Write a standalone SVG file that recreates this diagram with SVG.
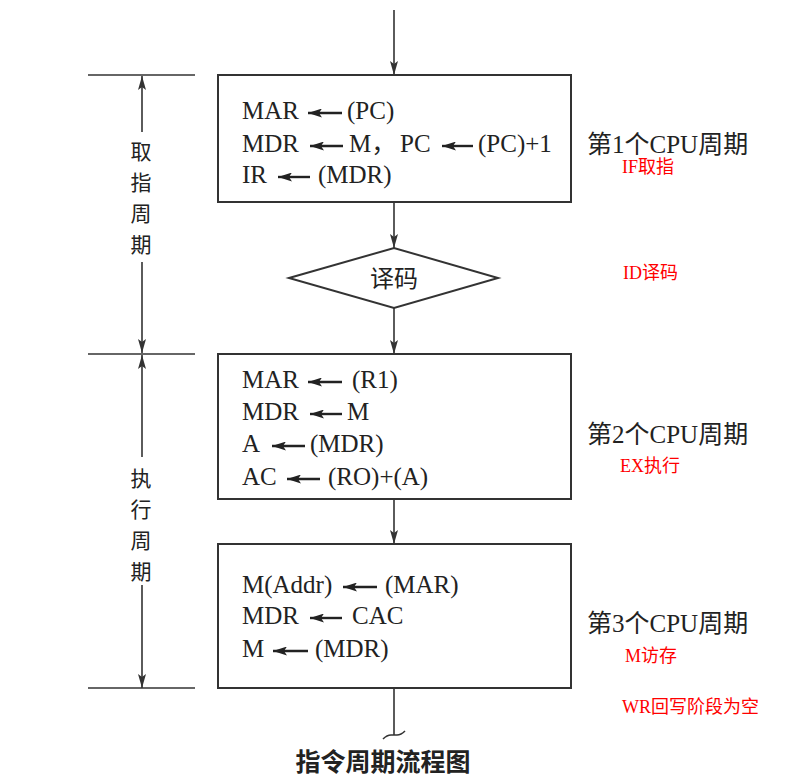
<svg xmlns="http://www.w3.org/2000/svg" width="809" height="778" viewBox="0 0 809 778">
<defs>
<style>
.box{fill:#fff;stroke:#333;stroke-width:2}
.ln{fill:none;stroke:#333;stroke-width:1.6}
.sl{fill:none;stroke:#222;stroke-width:2.4}
.t{font-family:"Liberation Serif","Noto Sans CJK SC",serif;font-size:25px;fill:#222}
.cj{font-family:"Noto Sans CJK SC",sans-serif;font-size:21px;fill:#222;text-anchor:middle}
.cy{font-family:"Liberation Serif","Noto Sans CJK SC",serif;font-size:25px;fill:#222}
.red{font-family:"Liberation Serif","Noto Sans CJK SC",serif;font-size:18px;fill:#f00}
.cap{font-family:"Noto Sans CJK SC",sans-serif;font-size:25px;font-weight:bold;fill:#222;text-anchor:middle}
</style>
<marker id="ah" viewBox="0 0 14 8" refX="14" refY="4" markerWidth="14" markerHeight="8" orient="auto" markerUnits="userSpaceOnUse">
<path d="M0,0 L14,4 L0,8 L3,4 z" fill="#333"/>
</marker>
<marker id="sa" viewBox="0 0 14 9" refX="14" refY="4.5" markerWidth="14" markerHeight="9" orient="auto" markerUnits="userSpaceOnUse">
<path d="M0,0 L14,4.5 L0,9 L3,4.5 z" fill="#222"/>
</marker>
</defs>
<rect width="809" height="778" fill="#fff"/>

<g id="connectors">
<line class="ln" x1="394" y1="10" x2="394" y2="75" marker-end="url(#ah)"/>
<line class="ln" x1="394" y1="202" x2="394" y2="248" marker-end="url(#ah)"/>
<line class="ln" x1="394" y1="308" x2="394" y2="354" marker-end="url(#ah)"/>
<line class="ln" x1="394" y1="499" x2="394" y2="544" marker-end="url(#ah)"/>
<path class="ln" d="M394,688 V735 M383,739 q4,-4 8,-4 h6 q4,0 8,-4"/>
</g>

<g id="brackets">
<line class="ln" x1="88" y1="75" x2="195" y2="75"/>
<line class="ln" x1="88" y1="354" x2="195" y2="354"/>
<line class="ln" x1="88" y1="688" x2="195" y2="688"/>
<line class="ln" x1="142" y1="132" x2="142" y2="76" marker-end="url(#ah)"/>
<line class="ln" x1="142" y1="262" x2="142" y2="353" marker-end="url(#ah)"/>
<line class="ln" x1="142" y1="457" x2="142" y2="355" marker-end="url(#ah)"/>
<line class="ln" x1="142" y1="585" x2="142" y2="688" marker-end="url(#ah)"/>
<text class="cj" x="141" y="159">取</text>
<text class="cj" x="141" y="190">指</text>
<text class="cj" x="141" y="221">周</text>
<text class="cj" x="141" y="252">期</text>
<text class="cj" x="141" y="486">执</text>
<text class="cj" x="141" y="517">行</text>
<text class="cj" x="141" y="548">周</text>
<text class="cj" x="141" y="579">期</text>
</g>

<g id="box1">
<rect class="box" x="218" y="75" width="353" height="127"/>
<text class="t" x="242" y="119">MAR</text>
<line class="sl" x1="342" y1="113" x2="308" y2="113" marker-end="url(#sa)"/>
<text class="t" x="347" y="119">(PC)</text>
<text class="t" x="242" y="152">MDR</text>
<line class="sl" x1="343" y1="146" x2="310" y2="146" marker-end="url(#sa)"/>
<text class="t" x="349" y="152">M，</text>
<text class="t" x="400" y="152">PC</text>
<line class="sl" x1="473" y1="146" x2="442" y2="146" marker-end="url(#sa)"/>
<text class="t" x="478" y="152">(PC)+1</text>
<text class="t" x="242" y="183">IR</text>
<line class="sl" x1="310" y1="177" x2="278" y2="177" marker-end="url(#sa)"/>
<text class="t" x="318" y="183">(MDR)</text>
</g>

<g id="decode">
<polygon class="box" points="289,278 394,248 498,278 394,308"/>
<text class="cj" x="394" y="287" style="font-size:24px">译码</text>
</g>

<g id="box2">
<rect class="box" x="218" y="354" width="353" height="145"/>
<text class="t" x="242" y="388">MAR</text>
<line class="sl" x1="342" y1="382" x2="308" y2="382" marker-end="url(#sa)"/>
<text class="t" x="352" y="388">(R1)</text>
<text class="t" x="242" y="420">MDR</text>
<line class="sl" x1="342" y1="414" x2="310" y2="414" marker-end="url(#sa)"/>
<text class="t" x="347" y="420">M</text>
<text class="t" x="242" y="452">A</text>
<line class="sl" x1="305" y1="446" x2="272" y2="446" marker-end="url(#sa)"/>
<text class="t" x="310" y="452">(MDR)</text>
<text class="t" x="242" y="485">AC</text>
<line class="sl" x1="320" y1="479" x2="287" y2="479" marker-end="url(#sa)"/>
<text class="t" x="328" y="485">(RO)+(A)</text>
</g>

<g id="box3">
<rect class="box" x="218" y="544" width="353" height="144"/>
<text class="t" x="242" y="593">M(Addr)</text>
<line class="sl" x1="377" y1="587" x2="343" y2="587" marker-end="url(#sa)"/>
<text class="t" x="385" y="593">(MAR)</text>
<text class="t" x="242" y="624">MDR</text>
<line class="sl" x1="342" y1="618" x2="310" y2="618" marker-end="url(#sa)"/>
<text class="t" x="352" y="624">CAC</text>
<text class="t" x="242" y="657">M</text>
<line class="sl" x1="308" y1="651" x2="273" y2="651" marker-end="url(#sa)"/>
<text class="t" x="315" y="657">(MDR)</text>
</g>

<g id="labels">
<text class="cy" x="587" y="153">第1个CPU周期</text>
<text class="red" x="622" y="173">IF取指</text>
<text class="red" x="623" y="279">ID译码</text>
<text class="cy" x="587" y="443">第2个CPU周期</text>
<text class="red" x="620" y="472">EX执行</text>
<text class="cy" x="587" y="632">第3个CPU周期</text>
<text class="red" x="625" y="662">M访存</text>
<text class="red" x="622" y="713">WR回写阶段为空</text>
</g>

<g id="caption">
<text class="cap" x="383" y="771">指令周期流程图</text>
</g>
</svg>
